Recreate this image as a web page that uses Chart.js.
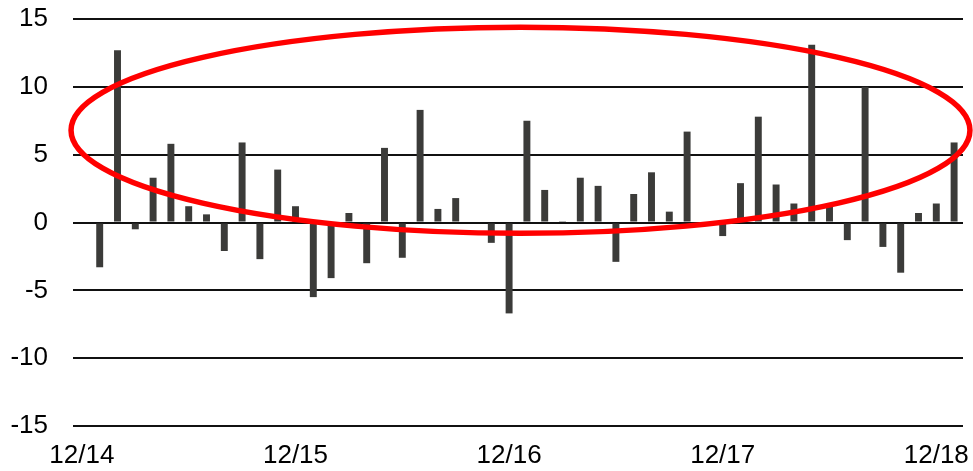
<!DOCTYPE html>
<html>
<head>
<meta charset="utf-8">
<script src="https://cdn.jsdelivr.net/npm/chart.js@4/dist/chart.umd.min.js"></script>
<style>
  html, body { margin: 0; padding: 0; background: #ffffff; }
  #wrap { width: 973px; height: 471px; }
</style>
</head>
<body>
<div id="wrap"><canvas id="c"></canvas></div>
<script>
// Monthly periods, 12/14 through 1/19
const months = [
  '12/14','1/15','2/15','3/15','4/15','5/15','6/15','7/15','8/15','9/15','10/15','11/15',
  '12/15','1/16','2/16','3/16','4/16','5/16','6/16','7/16','8/16','9/16','10/16','11/16',
  '12/16','1/17','2/17','3/17','4/17','5/17','6/17','7/17','8/17','9/17','10/17','11/17',
  '12/17','1/18','2/18','3/18','4/18','5/18','6/18','7/18','8/18','9/18','10/18','11/18',
  '12/18','1/19'
];

// Monthly change, one value per period (none for the starting month)
const monthlyChange = [
  null, -3.3, 12.7, -0.5, 3.3, 5.8, 1.2, 0.6, -2.1, 5.9, -2.7, 3.9,
  1.2, -5.5, -4.1, 0.7, -3.0, 5.5, -2.6, 8.3, 1.0, 1.8, 0, -1.5,
  -6.7, 7.5, 2.4, 0.1, 3.3, 2.7, -2.9, 2.1, 3.7, 0.8, 6.7, 0,
  -1.0, 2.9, 7.8, 2.8, 1.4, 13.1, 1.2, -1.3, 10.0, -1.8, -3.7, 0.7,
  1.4, 5.9
];

// Value axis ticks
const yTicks = [-15, -10, -5, 0, 5, 10, 15];

// Highlight ellipse, in data units (category index / value)
const highlightCenter = [24.64, 6.8];
const highlightRadius = [25.25, 7.6];

const FONT = 'Arial, "Liberation Sans", sans-serif';

const ellipsePlugin = {
  id: 'highlightEllipse',
  afterDraw(chart) {
    const xs = chart.scales.x, ys = chart.scales.y;
    const unitX = xs.getPixelForValue(1) - xs.getPixelForValue(0);
    const cx = xs.getPixelForValue(0) + highlightCenter[0] * unitX;
    const cy = ys.getPixelForValue(highlightCenter[1]);
    const rx = highlightRadius[0] * unitX;
    const ry = Math.abs(ys.getPixelForValue(0) - ys.getPixelForValue(highlightRadius[1]));
    const ctx = chart.ctx;
    ctx.save();
    ctx.beginPath();
    ctx.ellipse(cx, cy, rx, ry, 0, 0, Math.PI * 2);
    ctx.strokeStyle = '#ff0000';
    ctx.lineWidth = 5.5;
    ctx.stroke();
    ctx.restore();
  }
};

new Chart(document.getElementById('c'), {
  type: 'bar',
  data: {
    labels: months,
    datasets: [{
      data: monthlyChange,
      backgroundColor: '#3b3b39',
      borderWidth: 0,
      categoryPercentage: 1,
      barPercentage: 0.39
    }]
  },
  options: {
    responsive: true,
    maintainAspectRatio: false,
    animation: false,
    layout: { padding: { top: 19, right: 10, left: 0, bottom: 0 } },
    plugins: {
      legend: { display: false },
      tooltip: { enabled: false }
    },
    scales: {
      x: {
        offset: true,
        grid: { display: false, drawTicks: false },
        border: { display: false },
        afterFit(scale) {
          scale.height = 45;
          scale.paddingLeft = 0;
          scale.paddingRight = 0;
        },
        ticks: {
          autoSkip: false,
          maxRotation: 0,
          padding: 14,
          color: '#000',
          font: { family: FONT, size: 26 },
          callback(v, i) {
            const l = months[i];
            return l.startsWith('12/') ? l : '';
          }
        }
      },
      y: {
        min: yTicks[0],
        max: yTicks[yTicks.length - 1],
        afterBuildTicks(scale) {
          scale.ticks = yTicks.map(v => ({ value: v }));
        },
        afterFit(scale) {
          scale.width = 73;
          scale.paddingTop = 0;
          scale.paddingBottom = 0;
        },
        grid: { color: '#111', lineWidth: 2, drawTicks: false },
        border: { display: false },
        ticks: {
          padding: 25,
          color: '#000',
          font: { family: FONT, size: 26 }
        }
      }
    }
  },
  plugins: [ellipsePlugin]
});
</script>
</body>
</html>
